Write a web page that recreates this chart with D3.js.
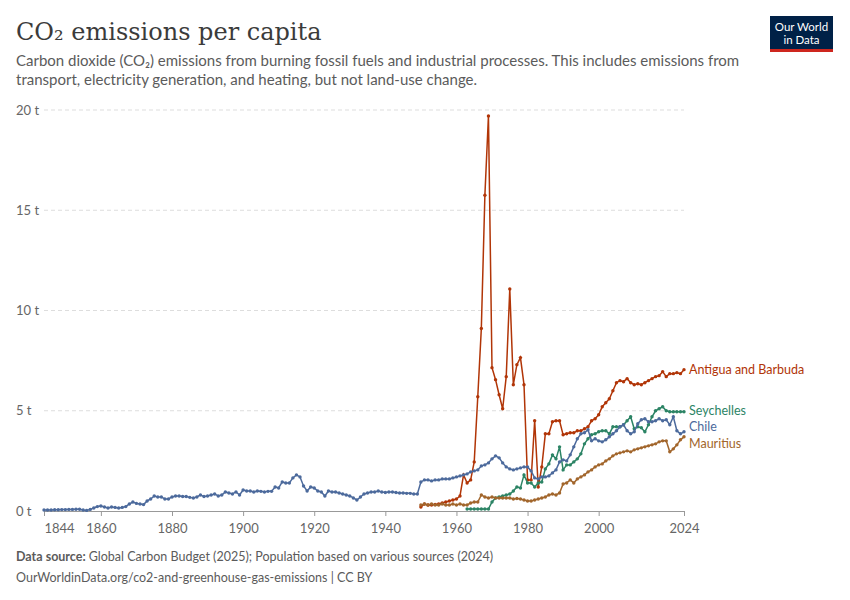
<html>
<head>
<meta charset="utf-8">
<script src="https://cdn.jsdelivr.net/npm/d3@7/dist/d3.min.js"></script>
<style>
  body { margin: 0; background: #fff; }
  svg { font-family: Lato, "Noto Sans", sans-serif; }
</style>
</head>
<body>
<div id="chart"></div>
<script>
    var width = 850, height = 600;

    // Chile, 1844-2024
    var chileStart = 1844;
    var chile = [
        .05,.05,.05,.06,.06,.07,.07,.08,.08,.09,
        .09,.05,.03,.08,.15,.22,.25,.2,.15,.2,
        .18,.15,.18,.22,.35,.45,.38,.35,.32,.5,
        .6,.75,.7,.7,.6,.6,.7,.75,.75,.72,
        .72,.68,.65,.7,.8,.72,.75,.8,.85,.75,
        .8,.95,.9,.85,.95,.8,1.05,1.0,1.0,.95,
        1.0,.98,.95,.98,.98,1.2,1.15,1.45,1.4,1.4,
        1.65,1.8,1.7,1.25,1.0,1.2,1.15,1.0,.95,.75,
        1.0,.95,.95,.9,.85,.8,.75,.65,.55,.7,
        .85,.9,.95,.95,1.0,.95,.92,.95,.95,.92,
        .9,.9,.88,.88,.85,.85,1.45,1.55,1.55,1.5,
        1.55,1.55,1.6,1.6,1.6,1.65,1.7,1.75,1.8,1.85,
        1.95,2.0,2.05,2.25,2.3,2.4,2.6,2.75,2.65,2.4,
        2.2,2.1,2.05,2.1,2.15,2.2,2.2,2.0,1.65,1.6,
        1.7,1.7,1.75,1.9,2.05,2.45,2.55,2.5,2.8,3.2,
        3.6,3.85,3.9,4.05,3.5,3.6,3.5,3.45,3.55,3.7,
        3.85,4.0,4.2,4.3,4.0,3.85,3.95,4.35,4.55,4.6,
        4.45,4.45,4.5,4.6,4.5,4.55,4.3,4.7,4.0,3.85,3.95
    ];

    // Antigua and Barbuda, 1950-2024
    var antiguaStart = 1950;
    var antigua = [
        .2,.35,.3,.3,.33,.35,.4,.45,.5,.55,
        .6,.75,1.8,1.4,1.55,2.45,5.7,9.1,15.75,19.7,
        7.15,6.55,5.8,5.1,6.7,11.07,6.3,7.3,7.65,6.3,
        1.55,1.55,4.5,1.2,2.2,3.85,3.85,4.45,4.5,4.5,
        3.8,3.85,3.9,3.9,4.0,4.0,4.1,4.2,4.5,4.6,
        4.8,5.2,5.4,5.6,6.0,6.4,6.5,6.45,6.6,6.4,
        6.3,6.35,6.3,6.4,6.5,6.6,6.7,6.75,6.95,6.7,
        6.85,6.85,6.9,6.85,7.05
    ];

    // Seychelles, 1963-2024
    var seychellesStart = 1963;
    var seychelles = [
        .1,.1,.1,.1,.1,.1,.1,
        .45,.65,.7,.75,.8,.85,1.0,1.2,1.15,1.8,
        1.4,1.4,1.2,1.4,1.45,2.1,2.35,2.8,2.6,3.2,
        2.05,2.3,2.3,2.45,2.6,2.85,3.35,3.6,3.8,3.85,
        3.95,4.0,4.0,3.85,4.2,4.2,4.2,4.3,4.5,4.7,
        4.1,4.2,4.15,3.95,4.3,4.7,5.0,5.1,5.2,5.0,
        4.95,4.95,4.95,4.95,4.95
    ];

    // Mauritius, 1950-2024
    var mauritiusStart = 1950;
    var mauritius = [
        .3,.35,.3,.35,.3,.3,.35,.3,.3,.35,
        .3,.35,.3,.3,.4,.45,.45,.8,.7,.65,
        .7,.65,.65,.65,.65,.65,.6,.62,.6,.55,
        .5,.5,.55,.6,.65,.7,.8,.85,.8,.9,
        1.35,1.4,1.55,1.4,1.6,1.7,1.8,1.95,2.05,2.2,
        2.3,2.35,2.5,2.6,2.75,2.85,2.9,2.95,3.0,2.95,
        3.05,3.1,3.15,3.2,3.25,3.3,3.35,3.45,3.5,3.5,
        2.95,3.1,3.3,3.55,3.7
    ];

    var xTicks = [1844, 1860, 1880, 1900, 1920, 1940, 1960, 1980, 2000, 2024];
    var yTicks = [0, 5, 10, 15, 20];

    var series = [
        { name: "Antigua and Barbuda", start: antiguaStart, values: antigua, color: "#b13507", labelDy: 0 },
        { name: "Seychelles", start: seychellesStart, values: seychelles, color: "#2c8465", labelDy: -1 },
        { name: "Chile", start: chileStart, values: chile, color: "#4c6a9c", labelDy: -5 },
        { name: "Mauritius", start: mauritiusStart, values: mauritius, color: "#a2662c", labelDy: 7 }
    ];

    var svg = d3.select("#chart").append("svg")
        .attr("width", width).attr("height", height);

    var x = d3.scaleLinear().domain([1844, 2024]).range([44, 684]);
    var y = d3.scaleLinear().domain([0, 20]).range([511, 110]);

    // header
    svg.append("text").attr("x", 16).attr("y", 40)
        .style("font-family", "'DejaVu Serif', 'Liberation Serif', serif")
        .style("font-size", "24px").style("fill", "#3b3b3b")
        .text("CO₂ emissions per capita");
    var sub = svg.append("text").attr("x", 16).attr("y", 66)
        .style("font-size", "15px").style("fill", "#5b5b5b");
    sub.append("tspan").attr("x", 16).text("Carbon dioxide (CO₂) emissions from burning fossil fuels and industrial processes. This includes emissions from");
    sub.append("tspan").attr("x", 16).attr("dy", 19).text("transport, electricity generation, and heating, but not land-use change.");

    // logo
    var logo = svg.append("g").attr("transform", "translate(770,16)");
    logo.append("rect").attr("width", 63).attr("height", 36).attr("fill", "#002147");
    logo.append("rect").attr("y", 33).attr("width", 63).attr("height", 3).attr("fill", "#ce261e");
    logo.append("text").attr("x", 31.5).attr("y", 15).attr("text-anchor", "middle")
        .style("font-size", "11.5px").style("fill", "#fff").text("Our World");
    logo.append("text").attr("x", 31.5).attr("y", 28).attr("text-anchor", "middle")
        .style("font-size", "11.5px").style("fill", "#fff").text("in Data");

    // grid + y labels
    svg.append("g").selectAll("line").data(yTicks.filter(function(d) { return d > 0; }))
        .enter().append("line")
        .attr("x1", 44).attr("x2", 684)
        .attr("y1", function(d) { return y(d); }).attr("y2", function(d) { return y(d); })
        .attr("stroke", "#ddd").attr("stroke-dasharray", "4,3");
    svg.append("g").selectAll("text").data(yTicks).enter().append("text")
        .attr("x", 16).attr("y", function(d) { return y(d) + 4.5; })
        .style("font-size", "13px").style("fill", "#666")
        .text(function(d) { return d + " t"; });

    // x axis
    var xAxis = svg.append("g").attr("transform", "translate(0,511)")
        .call(d3.axisBottom(x).tickValues(xTicks).tickFormat(d3.format("d")).tickSize(5));
    xAxis.select(".domain").attr("stroke", "#999");
    xAxis.selectAll(".tick line").attr("stroke", "#999");
    xAxis.selectAll(".tick text").style("font-size", "13px").style("fill", "#666")
        .style("font-family", "Lato, sans-serif").attr("dy", "1.1em");
    xAxis.selectAll(".tick text").filter(function(d) { return d === 1844; }).attr("text-anchor", "start");

    // lines
    var line = d3.line()
        .x(function(d) { return x(d.year); })
        .y(function(d) { return y(d.value); });

    series.forEach(function(s) {
        var pts = s.values.map(function(v, i) { return { year: s.start + i, value: v }; });
        svg.append("path").datum(pts)
            .attr("d", line).attr("fill", "none")
            .attr("stroke", s.color).attr("stroke-width", 1.5);
        svg.append("g").selectAll("circle").data(pts).enter().append("circle")
            .attr("cx", function(d) { return x(d.year); })
            .attr("cy", function(d) { return y(d.value); })
            .attr("r", 1.7).attr("fill", s.color);
        var last = pts[pts.length - 1];
        svg.append("text")
            .attr("x", x(last.year) + 5).attr("y", y(last.value) + 4.5 + s.labelDy)
            .style("font-size", "12.5px").style("fill", s.color)
            .text(s.name);
    });

    // footer
    var src = svg.append("text").attr("x", 16).attr("y", 561)
        .style("font-size", "12.5px").style("fill", "#5b5b5b");
    src.append("tspan").style("font-weight", "bold").text("Data source: ");
    src.append("tspan").text("Global Carbon Budget (2025); Population based on various sources (2024)");
    svg.append("text").attr("x", 16).attr("y", 582)
        .style("font-size", "12.5px").style("fill", "#5b5b5b")
        .text("OurWorldinData.org/co2-and-greenhouse-gas-emissions | CC BY");
</script>
</body>
</html>
